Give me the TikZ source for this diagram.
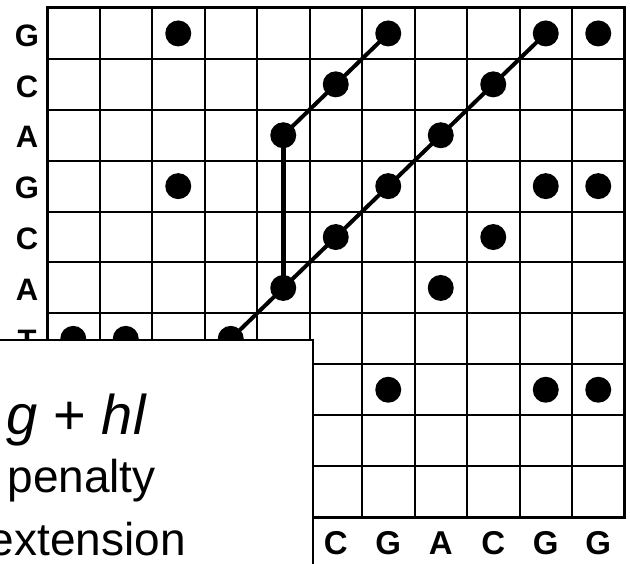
\documentclass[tikz,border=0pt]{standalone}
\usepackage{fontspec}
\setmainfont{Liberation Sans}
\begin{document}
\begin{tikzpicture}[x=1pt,y=-1pt,
  gridline/.style={line width=2pt},
  frameline/.style={line width=3pt},
  dot/.style={circle,fill=black,inner sep=0pt,minimum size=26pt},
  matchline/.style={line width=4pt},
  gapline/.style={line width=5pt},
  seqlabel/.style={font=\fontsize{31}{31}\selectfont\bfseries,inner sep=0pt},
  collabel/.style={font=\fontsize{33}{33}\selectfont\bfseries,inner sep=0pt},
  boxtext/.style={font=\fontsize{46}{46}\selectfont,inner sep=0pt,anchor=base east},
  bigtext/.style={font=\fontsize{56}{56}\selectfont,inner sep=0pt,anchor=base east},
  infobox/.style={line width=2pt,fill=white,draw=black}
]
\useasboundingbox (0,0) rectangle (630,564);
\clip (0,0) rectangle (630,564);
% grid
\foreach \i in {1,...,10} \draw[gridline] ({47+\i*52.5},8) -- ({47+\i*52.5},517);
\foreach \j in {1,...,9} \draw[gridline] (47,{8+\j*50.9}) -- (624.5,{8+\j*50.9});
\draw[frameline] (47,8) rectangle (624.5,517);
% dots
\foreach \r/\c in {1/3,1/7,1/10,1/11,2/6,2/9,3/5,3/8,4/3,4/7,4/10,4/11,5/6,5/9,6/5,6/8,7/1,7/2,7/4,8/7,8/10,8/11}
  \node[dot] (d\r-\c) at ({47+(\c-0.5)*52.5},{8+(\r-0.5)*50.9}) {};
% alignment paths
\draw[matchline] (d7-4.center) -- (d6-5.center) -- (d5-6.center) -- (d4-7.center) -- (d3-8.center) -- (d2-9.center) -- (d1-10.center);
\draw[matchline] (d3-5.center) -- (d2-6.center) -- (d1-7.center);
\draw[gapline] (d3-5.center) -- (d6-5.center);
% row labels
\foreach \r/\t in {1/G,2/C,3/A,4/G,5/C,6/A,7/T}
  \node[seqlabel] (r\r) at (27,{10+(\r-0.5)*50.9}) {\t};
% column labels
\foreach \c/\t in {6/C,7/G,8/A,9/C,10/G,11/G}
  \node[collabel] (c\c) at ({47+(\c-0.5)*52.5},543) {\t};
% overlay box
\draw[infobox] (-10,340) rectangle (313,600);
\node[bigtext] (t1) at (147,435) {\textit{g} + \textit{hl}};
\node[boxtext] (t2) at (156,493) {penalty};
\node[boxtext] (t3) at (186,555) {extension};
\end{tikzpicture}
\end{document}
